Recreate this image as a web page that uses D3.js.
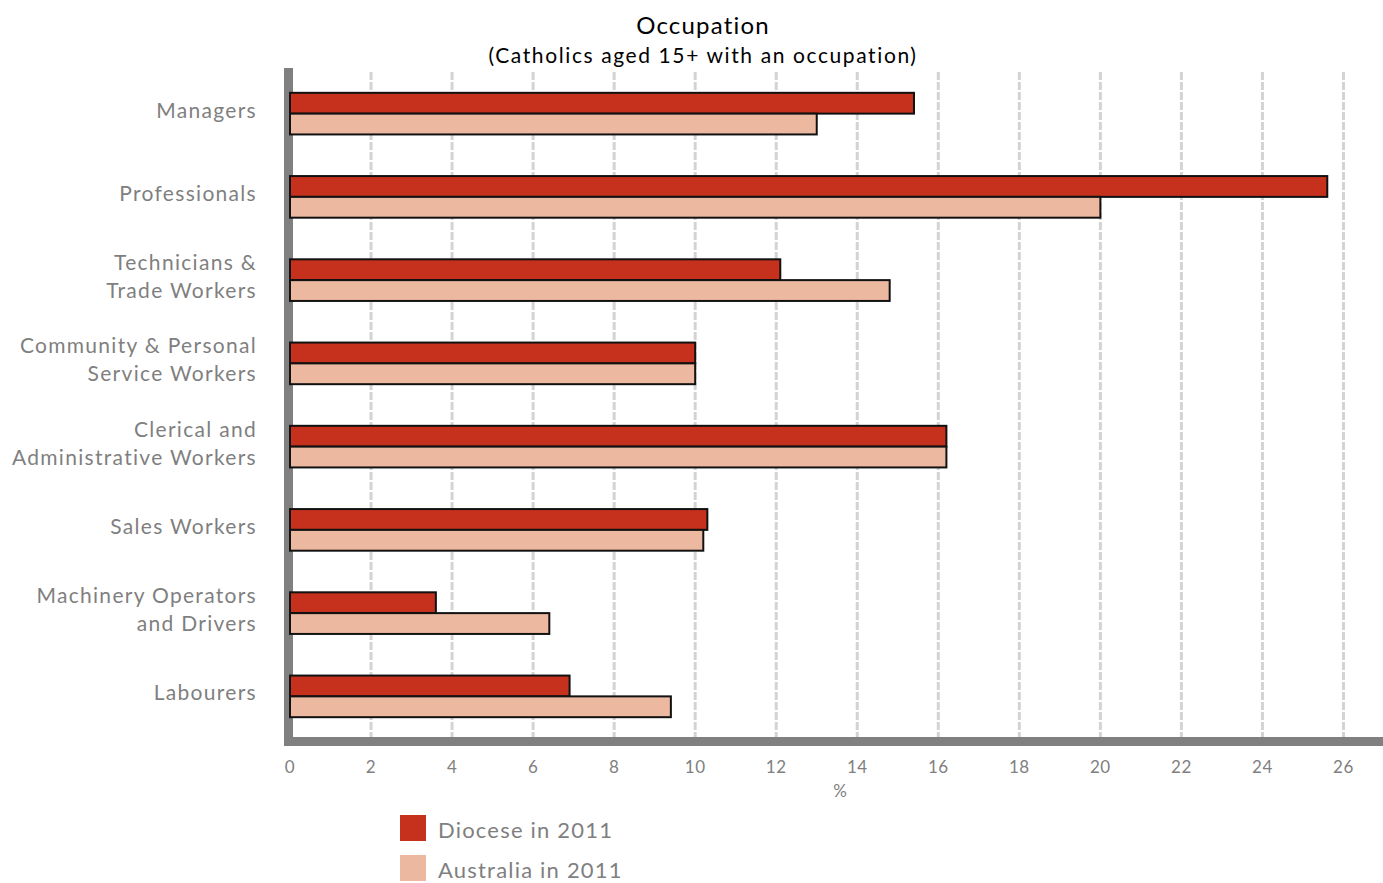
<!DOCTYPE html>
<html>
<head>
<meta charset="utf-8">
<script src="https://cdn.jsdelivr.net/npm/d3@7"></script>
<style>
  body { margin: 0; background: #fff; }
  svg { font-family: "Lato", "Noto Sans", sans-serif; }
</style>
</head>
<body>
<svg id="chart" width="1383" height="883"></svg>
<script>
const categories = [
  ['Managers'],
  ['Professionals'],
  ['Technicians &', 'Trade Workers'],
  ['Community & Personal', 'Service Workers'],
  ['Clerical and', 'Administrative Workers'],
  ['Sales Workers'],
  ['Machinery Operators', 'and Drivers'],
  ['Labourers']
];
const diocese = [15.4, 25.6, 12.1, 10.0, 16.2, 10.3, 3.6, 6.9];
const australia = [13.0, 20.0, 14.8, 10.0, 16.2, 10.2, 6.4, 9.4];
const seriesNames = ['Diocese in 2011', 'Australia in 2011'];
const seriesColors = ['#c5311d', '#ecb8a0'];
const xTicks = d3.range(0, 27, 2);

const svg = d3.select('#chart');
const LEFT = 290, RIGHT = 1384, TOP = 72, BOTTOM = 738;

const x = d3.scaleLinear().domain([0, 27]).range([LEFT, RIGHT]);
const y = d3.scaleBand().domain(d3.range(categories.length)).range([TOP, BOTTOM]).paddingInner(0.5).paddingOuter(0.25);
const sub = d3.scaleBand().domain([0, 1]).range([0, y.bandwidth()]);

// title
svg.append('text').attr('x', 703).attr('y', 34).attr('text-anchor', 'middle')
  .attr('font-size', 24).attr('letter-spacing', 1.2).attr('fill', '#000').text('Occupation');
svg.append('text').attr('x', 703).attr('y', 63).attr('text-anchor', 'middle')
  .attr('font-size', 21).attr('letter-spacing', 1.6).attr('fill', '#000').text('(Catholics aged 15+ with an occupation)');

// gridlines
svg.append('g').selectAll('line').data(xTicks.filter(d => d > 0)).join('line')
  .attr('x1', d => x(d)).attr('x2', d => x(d))
  .attr('y1', TOP).attr('y2', BOTTOM)
  .attr('stroke', '#d3d3d3').attr('stroke-width', 3).attr('stroke-dasharray', '8,2');

// axes lines
svg.append('line').attr('x1', 288.5).attr('x2', 288.5).attr('y1', 68).attr('y2', 746)
  .attr('stroke', '#808080').attr('stroke-width', 9);
svg.append('line').attr('x1', 284).attr('x2', 1383).attr('y1', 741.5).attr('y2', 741.5)
  .attr('stroke', '#808080').attr('stroke-width', 9);

// bars
const data = categories.map((c, i) => ({ i, vals: [diocese[i], australia[i]] }));
const groups = svg.append('g').selectAll('g').data(data).join('g')
  .attr('transform', d => `translate(0,${y(d.i)})`);
groups.selectAll('rect').data(d => d.vals).join('rect')
  .attr('x', x(0))
  .attr('y', (d, j) => sub(j))
  .attr('width', d => x(d) - x(0))
  .attr('height', sub.bandwidth())
  .attr('fill', (d, j) => seriesColors[j])
  .attr('stroke', '#111').attr('stroke-width', 2);

// x tick labels
svg.append('g').selectAll('text').data(xTicks).join('text')
  .attr('x', d => x(d)).attr('y', 773).attr('text-anchor', 'middle')
  .attr('font-size', 17).attr('letter-spacing', 0.5).attr('fill', '#808080').text(d => d);
svg.append('text').attr('x', 840).attr('y', 797).attr('text-anchor', 'middle')
  .attr('font-size', 17).attr('fill', '#808080').text('%');

// category labels
const labels = svg.append('g').selectAll('text').data(categories).join('text')
  .attr('text-anchor', 'end').attr('font-size', 21).attr('letter-spacing', 1.3).attr('fill', '#7f7f7f')
  .attr('x', 257)
  .attr('y', (d, i) => y(i) + y.bandwidth() / 2 - (d.length - 1) * 14 + 4);
labels.selectAll('tspan').data(d => d).join('tspan')
  .attr('x', 257).attr('dy', (d, k) => k === 0 ? 0 : 28).text(d => d);

// legend
const legend = svg.append('g').selectAll('g').data(seriesNames).join('g')
  .attr('transform', (d, i) => `translate(400,${815 + i * 40})`);
legend.append('rect').attr('width', 26).attr('height', 26).attr('fill', (d, i) => seriesColors[i]);
legend.append('text').attr('x', 38).attr('y', 23).attr('font-size', 22).attr('letter-spacing', 1.2)
  .attr('fill', '#7f7f7f').text(d => d);
</script>
</body>
</html>
